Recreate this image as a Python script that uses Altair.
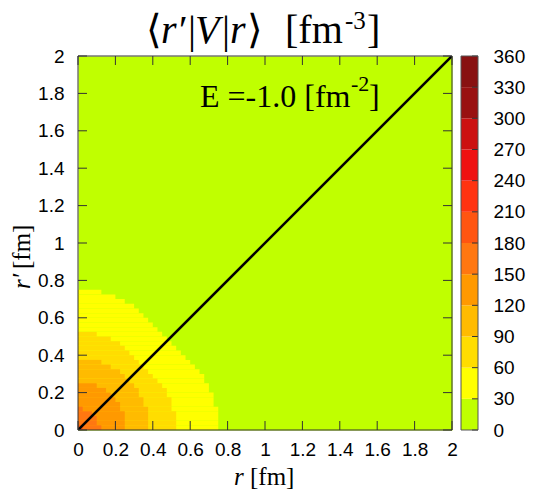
import altair as alt
import pandas as pd

# ---------------- data ----------------
CELL = 0.025  # fm, grid spacing of the colour map
levels = [30, 60, 90, 120, 150, 180]
# for each level: number of cells (counted from r = 0) with V >= level,
# one entry per row of r' (row j covers r' in [j*CELL, (j+1)*CELL])
runs_30 = [30, 30, 30, 30, 30, 29, 29, 29, 28, 28, 27, 27, 26, 25, 24, 23, 22, 21, 20, 19,
           18, 17, 16, 15, 14, 13, 12, 10, 8, 5]
runs_60 = [21, 21, 21, 21, 20, 20, 20, 19, 19, 18, 17, 16, 15, 14, 13, 12, 11, 10, 9, 7, 4]
runs_90 = [15, 15, 15, 15, 15, 14, 14, 13, 13, 12, 11, 10, 9, 7, 5]
runs_120 = [10, 10, 10, 10, 9, 9, 8, 7, 6, 4]
runs_150 = [5, 4, 4, 3, 1]
runs_180 = [1]
runs = [runs_30, runs_60, runs_90, runs_120, runs_150, runs_180]

cb_ticks = [0, 30, 60, 90, 120, 150, 180, 210, 240, 270, 300, 330, 360]
band_colors = ["#c0ff00", "#ffff00", "#ffdd00", "#ffbb00", "#ff9900", "#ff7711",
               "#ff5511", "#ff3311", "#ee1111", "#cc1111", "#991111", "#881111"]
axis_ticks = [0, 0.2, 0.4, 0.6, 0.8, 1.0, 1.2, 1.4, 1.6, 1.8, 2.0]
diag_r = [0.0, 2.0]

# ---------------- layout ----------------
W, H = 374, 374
LEFT, TOP = 78, 56          # page position of the plot area
SVG_W, SVG_H = 530, 483
SERIF = "Liberation Serif"
SANS = "Liberation Sans"

heat_rows = []
for lev, run in zip(levels, runs):
    for j, c in enumerate(run):
        heat_rows.append({"band": lev, "r0": 0.0, "r1": c * CELL,
                          "rp0": j * CELL, "rp1": (j + 1) * CELL})
heat_df = pd.DataFrame(heat_rows)

color_scale = alt.Scale(domain=cb_ticks[:-1], range=band_colors)
xs = alt.Scale(domain=[0, 2], nice=False, zero=False)
ys = alt.Scale(domain=[0, 2], nice=False, zero=False)
ax_x = alt.Axis(values=axis_ticks, format="~g", ticks=False, tickSize=0, domain=False,
                grid=False, labelPadding=10, labelFlush=False, labelOverlap=False, title=None)
ax_y = alt.Axis(values=axis_ticks, format="~g", ticks=False, tickSize=0, domain=False,
                grid=False, labelPadding=14, labelFlush=False, labelOverlap=False, title=None)

heat = alt.Chart(heat_df).mark_rect().encode(
    x=alt.X("r0:Q", scale=xs, axis=ax_x), x2="r1:Q",
    y=alt.Y("rp0:Q", scale=ys, axis=ax_y), y2="rp1:Q",
    color=alt.Color("band:O", scale=color_scale, legend=None),
)

diag = alt.Chart(pd.DataFrame({"r": diag_r, "rp": diag_r})).mark_line(
    color="black", strokeWidth=2.6, clip=True
).encode(x=alt.X("r:Q", scale=xs, axis=ax_x), y=alt.Y("rp:Q", scale=ys, axis=ax_y))

tick_df = pd.DataFrame({"t": axis_ticks})
TL = 9
tick_style = dict(color="#333333", strokeWidth=1)
t_bottom = alt.Chart(tick_df).mark_rule(**tick_style).encode(
    x=alt.X("t:Q", scale=xs, axis=ax_x), y=alt.value(H), y2=alt.value(H - TL))
t_top = alt.Chart(tick_df).mark_rule(**tick_style).encode(
    x=alt.X("t:Q", scale=xs, axis=ax_x), y=alt.value(0), y2=alt.value(TL))
t_left = alt.Chart(tick_df).mark_rule(**tick_style).encode(
    y=alt.Y("t:Q", scale=ys, axis=ax_y), x=alt.value(0), x2=alt.value(TL))
t_right = alt.Chart(tick_df).mark_rule(**tick_style).encode(
    y=alt.Y("t:Q", scale=ys, axis=ax_y), x=alt.value(W - TL), x2=alt.value(W))

one = pd.DataFrame({"k": [0]})
frame = alt.Chart(one).mark_rect(fillOpacity=0, stroke="#333333", strokeWidth=1).encode(
    x=alt.value(0), x2=alt.value(W), y=alt.value(0), y2=alt.value(H))


def label(text, px, py, size, italic=False, angle=0):
    return alt.Chart(pd.DataFrame({"t": [text]})).mark_text(
        align="left", baseline="alphabetic", font=SERIF, fontSize=size,
        fontStyle="italic" if italic else "normal", angle=angle, color="black"
    ).encode(text="t:N", x=alt.value(px - LEFT), y=alt.value(py - TOP))


texts = [
    # title  <r'|V|r>  [fm^-3]
    label("⟨", 146, 43, 40),
    label("r′", 161, 43, 40, italic=True),
    label("|", 188, 43, 40),
    label("V", 195, 43, 40, italic=True),
    label("|", 222, 43, 40),
    label("r", 230, 43, 40, italic=True),
    label("⟩", 247, 43, 40),
    label("[fm", 285, 43, 40),
    label("-3", 345, 29, 25),
    label("]", 367, 43, 40),
    # energy annotation
    label("E =-1.0 [fm", 200, 107, 32),
    label("-2", 351, 91, 22),
    label("]", 369, 107, 32),
    # axis titles
    label("r", 234, 485, 25, italic=True),
    label("[fm]", 250, 485, 25),
    label("r′", 30, 289, 25, italic=True, angle=270),
    label("[fm]", 30, 269, 25, angle=270),
]

main = alt.layer(heat, diag, t_bottom, t_top, t_left, t_right, frame, *texts)

# ---------------- colour bar ----------------
CB0, CB1 = W + 9, W + 26
cb_df = pd.DataFrame({"lo": cb_ticks[:-1], "hi": cb_ticks[1:]})
cbs = alt.Scale(domain=[0, 360], nice=False, zero=False)
ax_cb = alt.Axis(orient="right", values=cb_ticks, offset=26, ticks=False, tickSize=0,
                 domain=False, grid=False, labelPadding=15, labelFlush=False,
                 labelOverlap=False, title=None)
cb_rect = alt.Chart(cb_df).mark_rect().encode(
    y=alt.Y("lo:Q", scale=cbs, axis=ax_cb), y2="hi:Q",
    x=alt.value(CB0), x2=alt.value(CB1),
    color=alt.Color("lo:O", scale=color_scale, legend=None),
)
cb_t = alt.Chart(pd.DataFrame({"v": cb_ticks})).mark_rule(**tick_style).encode(
    y=alt.Y("v:Q", scale=cbs, axis=ax_cb), x=alt.value(CB1 - 6), x2=alt.value(CB1))
cb_frame = alt.Chart(one).mark_rect(fillOpacity=0, stroke="#555555", strokeWidth=1).encode(
    x=alt.value(CB0), x2=alt.value(CB1), y=alt.value(0), y2=alt.value(H))
cbar = alt.layer(cb_rect, cb_t, cb_frame)

chart = alt.layer(main, cbar).resolve_scale(y="independent").properties(
    width=W, height=H,
    autosize=alt.AutoSizeParams(type="none"),
    padding={"left": LEFT - 8, "top": TOP - 8, "right": SVG_W - (LEFT - 8) - W,
             "bottom": SVG_H - (TOP - 8) - H},
).configure_view(fill=band_colors[0], stroke="transparent").configure_axis(
    labelFont=SANS, labelFontSize=19, labelColor="black"
)

chart.save("out.html", embed_options={"renderer": "svg", "actions": False})
